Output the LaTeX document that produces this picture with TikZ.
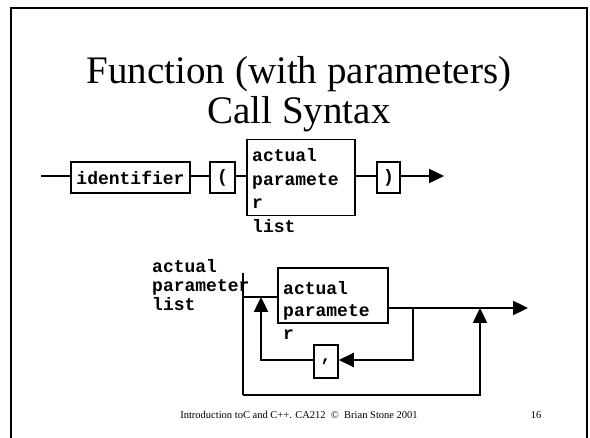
\documentclass[tikz,border=0pt]{standalone}
\usepackage{fontspec}
\setmainfont{Liberation Serif}
\newfontfamily\diafont{Liberation Mono}
\usetikzlibrary{arrows.meta}
\tikzset{
  synbox/.style={draw, line width=1.6pt, inner sep=0pt, font=\diafont\bfseries\fontsize{18}{20}\selectfont},
  syntxt/.style={inner sep=0pt, anchor=north west, align=left, font=\diafont\bfseries\fontsize{18}{23.5}\selectfont},
  conn/.style={line width=2.4pt},
  arr/.style={line width=2.4pt, -{Triangle[length=15pt,width=14pt]}},
  titlefont/.style={font=\fontsize{39}{44}\selectfont, anchor=base},
  footfont/.style={font=\fontsize{10.5}{12}\selectfont},
}
\begin{document}
\begin{tikzpicture}[x=1pt,y=-1pt]
\useasboundingbox (0,0) rectangle (590,438);
% frame
\draw[line width=1.6pt] (11,440) -- (11,8) -- (587,8) -- (587,440);
% title
\node[titlefont] (title1) at (299,84) {Function (with parameters)};
\node[titlefont] (title2) at (299,124) {Call Syntax};
% top syntax line
\coordinate (s0) at (41,176);
\node[synbox, minimum width=119pt, minimum height=31pt] (id) at (130.5,177.5) {identifier};
\node[synbox, minimum width=25pt, minimum height=31pt] (lp) at (222.5,177.5) {(};
\node[synbox, minimum width=108pt, minimum height=76pt] (apl) at (301,177.5) {};
\node[syntxt] (apltxt) at (252,148.5) {actual\\paramete\\r\\list};
\node[synbox, minimum width=23pt, minimum height=31pt] (rp) at (388.5,177.5) {)};
\coordinate (e0) at (444,176);
\draw[conn] (s0) -- (s0 -| id.west);
\draw[conn] (id.east |- s0) -- (lp.west |- s0);
\draw[conn] (lp.east |- s0) -- (apl.west |- s0);
\draw[conn] (apl.east |- s0) -- (rp.west |- s0);
\draw[arr] (rp.east |- s0) -- (e0);
% bottom definition
\node[syntxt, font=\diafont\bfseries\fontsize{18}{19}\selectfont] (lbl) at (152,259) {actual\\parameter\\list};
\coordinate (vt) at (243,273);
\coordinate (vb) at (243,395);
\coordinate (vin) at (243,297);
\node[synbox, minimum width=110pt, minimum height=55pt] (ap) at (333,295.5) {};
\node[syntxt, font=\diafont\bfseries\fontsize{18}{22.5}\selectfont] (aptxt) at (283,281) {actual\\paramete\\r};
\coordinate (out) at (528,308);
\coordinate (jn) at (413,308);
\coordinate (jl) at (413,360);
\node[synbox, minimum width=24pt, minimum height=33pt] (comma) at (326,361.5) {,};
\coordinate (lb) at (261,360);
\coordinate (br) at (480,395);
\draw[conn] (vt) -- (vb);
\draw[conn] (vin) -- (vin -| ap.west);
\draw[arr] (ap.east |- out) -- (out);
\draw[arr] (jn) -- (jl) -- (comma.east |- jl);
\draw[arr] (comma.west |- lb) -- (lb) -- (lb |- vin);
\draw[arr] (vb) -- (br) -- (br |- out);
% footer
\node[footfont] (foot) at (299,415) {Introduction toC and C++. CA212~~\textcopyright~~Brian Stone 2001};
\node[footfont] (pg) at (536,415) {16};
\end{tikzpicture}
\end{document}
